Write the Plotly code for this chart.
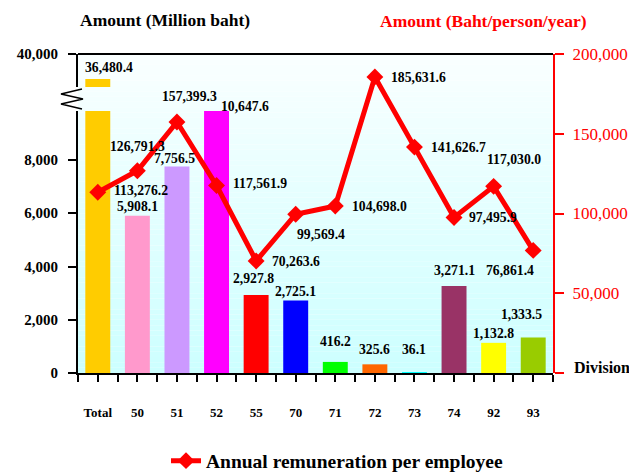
import plotly.graph_objects as go

# ---------------- data ----------------
categories = ["Total", "50", "51", "52", "55", "70", "71", "72", "73", "74", "92", "93"]
amount_million_baht = [36480.4, 5908.1, 7756.5, 10647.6, 2927.8, 2725.1,
                       416.2, 325.6, 36.1, 3271.1, 1132.8, 1333.5]
remuneration_baht = [113276.2, 126791.3, 157399.3, 117561.9, 70263.6, 99569.4,
                     104698.0, 185631.6, 141626.7, 97495.9, 117030.0, 76861.4]
bar_colors = ["#FFCC00", "#FF99CC", "#CC99FF", "#FF00FF", "#FF0000", "#0000FF",
              "#00FF00", "#FF6600", "#00FFFF", "#993366", "#FFFF00", "#99CC00"]
left_ticks_low = [0, 2000, 4000, 6000, 8000]
left_ticks_high = [40000]
right_ticks = [0, 50000, 100000, 150000, 200000]
right_tick_text = ["", "50,000", "100,000", "150,000", "200,000"]
line_name = "Annual remuneration per employee"

# ---------------- layout geometry ----------------
OFF = 8                      # page body margin of the html page
W, H = 637 - OFF, 472 - OFF
PLOT_L, PLOT_R, PLOT_T, PLOT_B = 78, 553, 54, 373   # plot box in page pixels
L, T = PLOT_L - OFF, PLOT_T - OFF
R, B = W - (PLOT_R - OFF), H - (PLOT_B - OFF)
PW, PH = PLOT_R - PLOT_L, PLOT_B - PLOT_T
FONT = "Liberation Serif"


def px_x(px):
    return (px - PLOT_L) / PW


def px_y(py):
    return (PLOT_B - py) / PH


low_dom = [0, px_y(111)]
high_dom = [px_y(87), 1]

idx = list(range(len(categories)))

fig = go.Figure()

# lower part of the broken axis
fig.add_trace(go.Bar(x=idx, y=amount_million_baht, marker=dict(color=bar_colors, line=dict(width=0)),
                     width=0.63, xaxis="x", yaxis="y", showlegend=False, hoverinfo="skip"))
# upper part of the broken axis (only the Total bar reaches it)
fig.add_trace(go.Bar(x=idx[:1], y=amount_million_baht[:1], marker=dict(color=bar_colors[:1], line=dict(width=0)),
                     width=0.63, xaxis="x", yaxis="y2", showlegend=False, hoverinfo="skip"))
# remuneration line
fig.add_trace(go.Scatter(x=idx, y=remuneration_baht, mode="lines+markers", name=line_name,
                         line=dict(color="#FF0000", width=5),
                         marker=dict(symbol="diamond", size=13, color="#FF0000"),
                         xaxis="x", yaxis="y3", hoverinfo="skip"))

# ---------------- background gradient ----------------
shapes = []
N = 60
for k in range(N):
    t = (k + 0.5) / N
    r = int(round(204 + (250 - 204) * t))
    shapes.append(dict(type="rect", xref="paper", yref="paper", x0=0, x1=1,
                       y0=k / N, y1=(k + 1) / N, fillcolor=f"rgb({r},255,255)",
                       line=dict(width=0), layer="below"))
# top border
shapes.append(dict(type="line", xref="paper", yref="paper", x0=0, x1=1, y0=1, y1=1,
                   line=dict(color="black", width=2)))
# axis break zigzag
zz = [(82, 89), (61, 94), (83, 99), (61, 104), (82, 109)]
path = "M " + " L ".join(f"{px_x(a):.4f},{px_y(b):.4f}" for a, b in zz)
shapes.append(dict(type="path", xref="paper", yref="paper", path=path,
                   line=dict(color="black", width=1.5)))

# ---------------- labels ----------------
ann = []
bold = dict(family=FONT, size=13.7, color="black", weight="bold")

# bar labels: (xshift, yshift) in pixels
bar_shift = [(11, 12), (0, 9.5), (-2, 7.5), (28, 5), (-3, 17), (0, 8.5),
             (0, 20), (0, 15), (0, 23), (0, 15), (0, 9), (-12, 22.5)]
for i, v in enumerate(amount_million_baht):
    if i == 0:
        pos = dict(yref="y2", y=v)
    elif i == 3:
        pos = dict(yref="y domain", y=1)
    else:
        pos = dict(yref="y", y=v)
    ann.append(dict(x=i, xref="x", text=f"{v:,.1f}", showarrow=False,
                    font=bold, xanchor="center", yanchor="middle",
                    xshift=bar_shift[i][0], yshift=bar_shift[i][1], **pos))

line_shift = [(43, 2), (0, 24), (13, 25), (43, 2), (40, -1), (25, -20),
              (44, 0), (44, -1), (44, 0), (39, 0), (20, 27), (-23, -20)]
for i, v in enumerate(remuneration_baht):
    ann.append(dict(x=i, y=v, xref="x", yref="y3", text=f"{v:,.1f}", showarrow=False,
                    font=bold, xanchor="center", yanchor="middle",
                    xshift=line_shift[i][0], yshift=line_shift[i][1]))

title_font = dict(family=FONT, size=17.5, color="black", weight="bold")
ann.append(dict(x=px_x(78), y=px_y(20), xref="paper", yref="paper", text="Amount (Million baht)",
                showarrow=False, xanchor="left", yanchor="middle", font=title_font))
ann.append(dict(x=px_x(483.5), y=px_y(21), xref="paper", yref="paper", text="Amount (Baht/person/year)",
                showarrow=False, xanchor="center", yanchor="middle", font=dict(title_font, color="#FF0000")))
ann.append(dict(x=px_x(573), y=px_y(367), xref="paper", yref="paper", text="Division",
                showarrow=False, xanchor="left", yanchor="middle", borderpad=0,
                font=dict(title_font, size=16)))

# ---------------- axes ----------------
xt_vals, xt_text = [], []
for i, c in enumerate(categories):
    xt_vals += [i - 0.5, i]
    xt_text += ["", c]
xt_vals.append(len(categories) - 0.5)
xt_text.append("")

axis_font = dict(family=FONT, size=15, color="black", weight="bold")

fig.update_layout(
    width=W, height=H,
    margin=dict(l=L, r=R, t=T, b=B, autoexpand=False),
    paper_bgcolor="white", plot_bgcolor="rgba(0,0,0,0)",
    showlegend=True,
    legend=dict(orientation="h", xref="container", yref="container",
                x=(166 - OFF) / W, y=1 - (461 - OFF) / H, xanchor="left", yanchor="middle",
                font=dict(family=FONT, size=19.5, color="black", weight="bold"),
                bgcolor="rgba(0,0,0,0)"),
    xaxis=dict(domain=[0, 1], range=[-0.5, len(categories) - 0.5], anchor="y",
               tickmode="array", tickvals=xt_vals, ticktext=xt_text,
               ticks="outside", ticklen=7, tickwidth=2, tickcolor="black",
               showline=True, linecolor="black", linewidth=2, showgrid=False, zeroline=False,
               tickfont=dict(family=FONT, size=13, color="black", weight="bold"),
               ticklabelstandoff=19, automargin=False),
    yaxis=dict(domain=low_dom, range=[0, 9840], anchor="x",
               tickmode="array", tickvals=left_ticks_low, ticktext=[f"{v:,}" for v in left_ticks_low],
               ticks="outside", ticklen=8, tickwidth=2, tickcolor="black",
               showline=True, linecolor="black", linewidth=2, showgrid=False, zeroline=False,
               tickfont=axis_font, ticklabelstandoff=7, automargin=False),
    yaxis2=dict(domain=high_dom, range=[35354, 40000], anchor="x",
                tickmode="array", tickvals=left_ticks_high, ticktext=[f"{v:,}" for v in left_ticks_high],
                ticks="outside", ticklen=8, tickwidth=2, tickcolor="black",
                showline=True, linecolor="black", linewidth=2, showgrid=False, zeroline=False,
                tickfont=axis_font, ticklabelstandoff=7, automargin=False),
    yaxis3=dict(domain=[0, 1], range=[0, 200000], anchor="x", side="right",
                tickmode="array", tickvals=right_ticks, ticktext=right_tick_text,
                ticks="outside", ticklen=9, tickwidth=2, tickcolor="#FF0000",
                showline=True, linecolor="#FF0000", linewidth=2, showgrid=False, zeroline=False,
                tickfont=dict(family=FONT, size=17, color="#FF0000"), ticklabelstandoff=5,
                automargin=False),
    shapes=shapes,
    annotations=ann,
)

fig.write_html("out.html")
